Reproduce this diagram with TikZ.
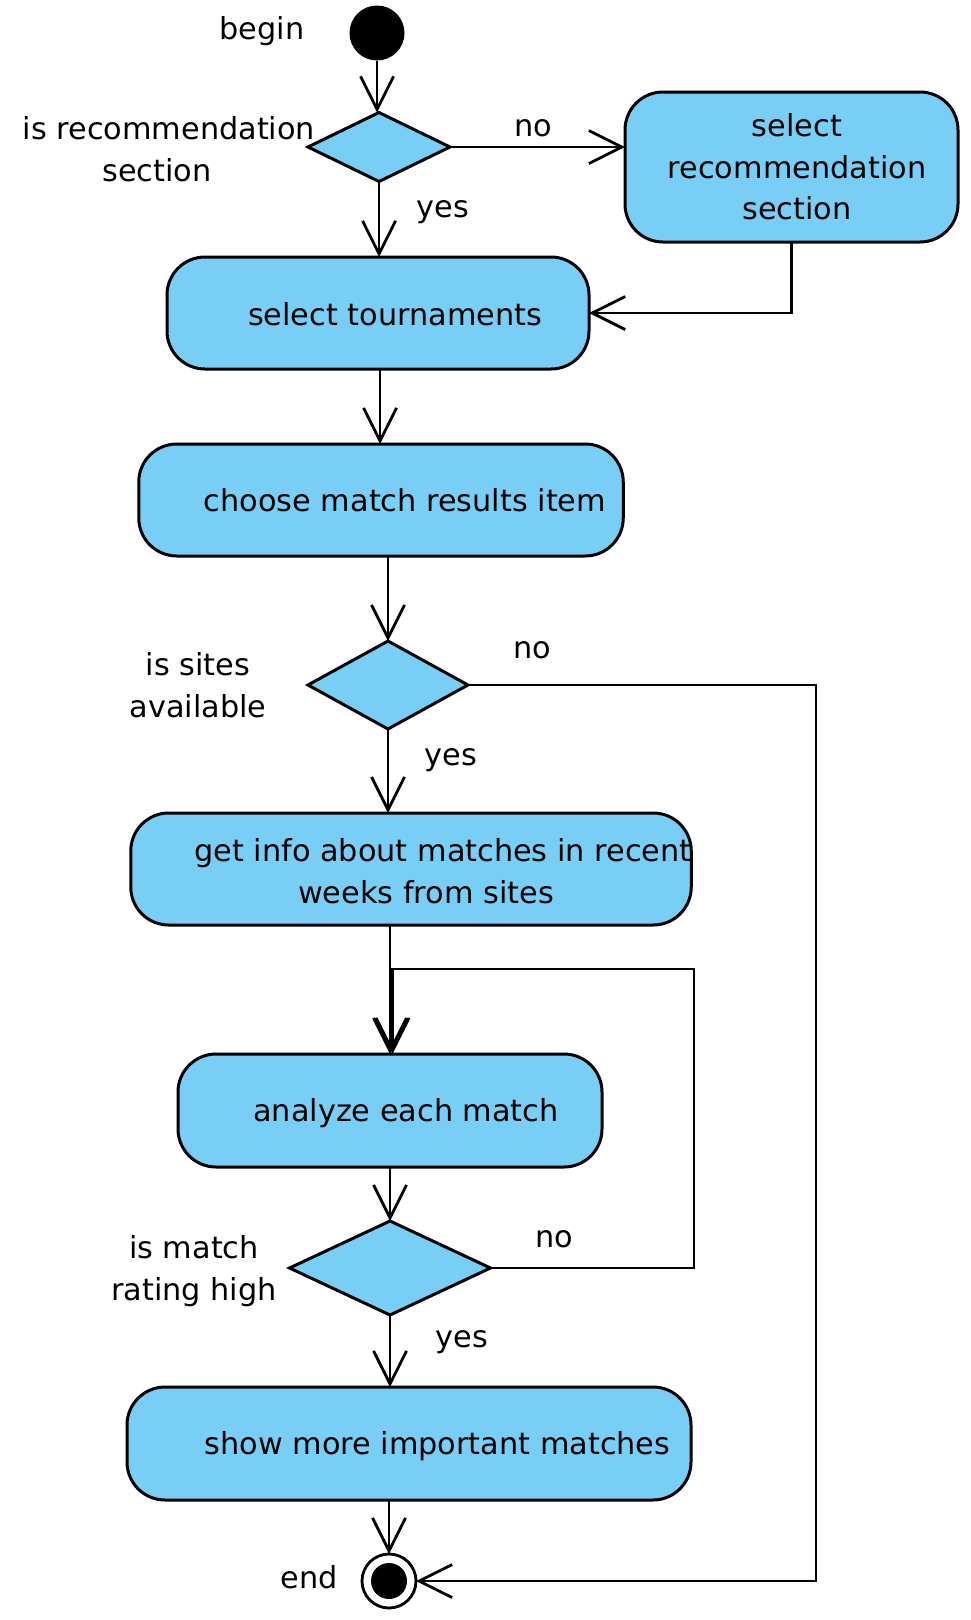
\documentclass[tikz,border=0pt]{standalone}
\usepackage{fontspec}
\setmainfont{DejaVu Sans}
\usetikzlibrary{shapes.geometric,arrows.meta,calc}
\definecolor{ublue}{RGB}{120,206,244}
\begin{document}
\begin{tikzpicture}[x=1pt,y=-1pt,
  font=\fontsize{30.3pt}{41.5pt}\selectfont,
  box/.style={draw, line width=3pt, fill=ublue, rounded corners=38pt, inner sep=0pt, outer sep=0pt},
  dec/.style={diamond, draw, line width=3pt, fill=ublue, inner sep=0pt, outer sep=0pt},
  txt/.style={align=center, inner sep=0pt, outer sep=0pt},
  flow/.style={line width=2.8pt, -{Straight Barb[length=33pt,width=33pt]}},
  conn/.style={line width=2.8pt}]
\useasboundingbox (0,0) rectangle (970,1620);

% start
\node[circle, fill=black, minimum size=55pt, inner sep=0pt, outer sep=0pt] (B) at (377,33) {};
\node[txt] (Bl) at (262,31) {begin};

% decision 1
\node[dec, minimum width=142pt, minimum height=69pt] (D1) at (379,147) {};
\node[txt] (D1l) at (157,149) {\kern24pt is recommendation\\section};
\node[txt] (D1no) at (533,128) {no};
\node[txt] (D1yes) at (443,212) {yes};

% select recommendation section
\node[box, minimum width=333pt, minimum height=150pt] (R) at (791.5,167) {};
\node[txt] (Rt) at (797,167) {select\\recommendation\\section};

% select tournaments
\node[box, minimum width=422pt, minimum height=112pt] (T) at (378,313) {};
\node[txt] (Tt) at (395,314) {select tournaments};

% choose match results item
\node[box, minimum width=484.5pt, minimum height=112pt] (C) at (381,500) {};
\node[txt] (Ct) at (405,500) {choose match results item};

% decision 2
\node[dec, minimum width=160pt, minimum height=88pt] (D2) at (388,685) {};
\node[txt] (D2l) at (198,685) {is sites\\available};
\node[txt] (D2no) at (532,650) {no};
\node[txt] (D2yes) at (451,760) {yes};

% get info
\node[box, minimum width=560.5pt, minimum height=112pt] (G) at (411,869) {};
\node[txt] (Gt) at (426,871) {\kern34pt get info about matches in recent\\weeks from sites};

% analyze each match
\node[box, minimum width=424pt, minimum height=113pt] (A) at (390,1110.5) {};
\node[txt] (At) at (406,1113) {analyze each match};

% decision 3
\node[dec, minimum width=201pt, minimum height=94pt] (D3) at (390,1268) {};
\node[txt] (D3l) at (194,1271) {is match\\rating high};
\node[txt] (D3no) at (554,1239) {no};
\node[txt] (D3yes) at (462,1342) {yes};

% show more important matches
\node[box, minimum width=564pt, minimum height=113pt] (S) at (409,1443.5) {};
\node[txt] (St) at (437.5,1446) {show more important matches};

% end
\node[circle, draw, line width=2.8pt, fill=white, minimum size=54pt, inner sep=0pt, outer sep=0pt] (E) at (389,1581) {};
\node[circle, fill=black, minimum size=36pt, inner sep=0pt] (Ei) at (E) {};
\node[txt] (El) at (309,1577) {end};

% helper coordinates
\coordinate (c1) at (816,685);
\coordinate (c2) at (694,1268);
\coordinate (c3) at (694,969);
\coordinate (c4) at (392.5,969);

% connectors
\draw[flow] (B.south) -- (B.south |- D1.north);
\draw[flow] (D1.east) -- (D1.east -| R.west);
\draw[flow] (D1.south) -- (D1.south |- T.north);
\draw[flow] (R.south) -- (R.south |- T.east) -- (T.east);
\draw[flow] (T.south -| 380,0) -- (C.north -| 380,0);
\draw[flow] (C.south -| D2.north) -- (D2.north);
\draw[flow] (D2.south) -- (D2.south |- G.north);
\draw[flow] (D2.east) -- (c1) -- (c1 |- E.east) -- (E.east);
\draw[flow] (G.south -| A.north) -- (A.north);
\draw[flow] (D3.east) -- (c2) -- (c3) -- (c4) -- (c4 |- A.north);
\draw[flow] (A.south) -- (D3.north);
\draw[flow] (D3.south) -- (D3.south |- S.north);
\draw[flow] (S.south -| E.north) -- (E.north);
\end{tikzpicture}
\end{document}
